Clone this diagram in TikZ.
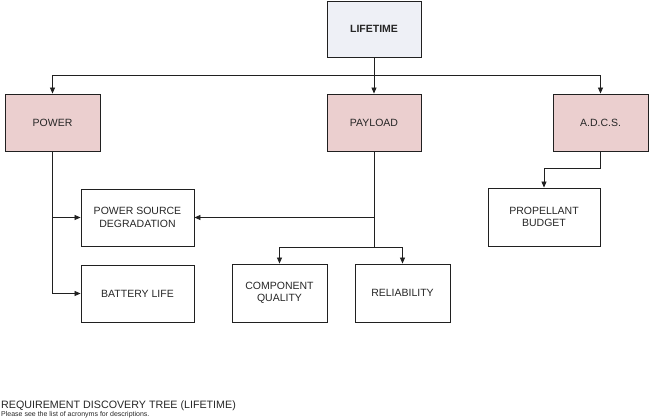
\documentclass[tikz,border=0pt]{standalone}
\usepackage{fontspec}
\setmainfont{Liberation Sans}
\usetikzlibrary{arrows.meta}
\definecolor{topfill}{HTML}{EEF0F6}
\definecolor{pinkfill}{HTML}{EBCFCF}
\definecolor{linec}{HTML}{202020}
\tikzset{
  box/.style={draw=linec, line width=0.9pt, inner sep=0pt, align=center,
    font=\fontsize{10.5}{12.5}\selectfont, text=black!85},
  topbox/.style={box, fill=topfill, font=\fontsize{10.5}{12.5}\selectfont\bfseries},
  pinkbox/.style={box, fill=pinkfill},
  conn/.style={draw=linec, line width=0.8pt},
  arr/.style={conn, -{Triangle[length=6pt,width=5pt]}}
}
\begin{document}
\begin{tikzpicture}[x=1pt,y=-1pt]
\useasboundingbox (0,0) rectangle (649,420);
% boxes: corners in px (y down)
\node[topbox, minimum width=94pt, minimum height=56pt] (life) at (374,29) {LIFETIME};
\node[pinkbox, minimum width=95pt, minimum height=57pt] (power) at (52.5,122.5) {POWER};
\node[pinkbox, minimum width=94pt, minimum height=57pt] (payload) at (374,122.5) {PAYLOAD};
\node[pinkbox, minimum width=95pt, minimum height=57pt] (adcs) at (600.5,122.5) {A.D.C.S.};
\node[box, minimum width=113pt, minimum height=57pt] (psd) at (137.5,217.5) {POWER SOURCE\\DEGRADATION};
\node[box, minimum width=113pt, minimum height=57pt] (bat) at (137.5,293.5) {BATTERY LIFE};
\node[box, minimum width=95pt, minimum height=58pt] (comp) at (279.5,293) {COMPONENT\\QUALITY};
\node[box, minimum width=95pt, minimum height=58pt] (rel) at (402.5,293) {RELIABILITY};
\node[box, minimum width=112pt, minimum height=58pt] (prop) at (544,217) {PROPELLANT\\BUDGET};
% connectors
\coordinate (bus) at (374,75);
\coordinate (pbus) at (374,247);
\coordinate (abus) at (600.5,168);
\draw[conn] (life.south) -- (bus);
\draw[arr] (bus) -- (payload.north);
\draw[arr] (bus) -| (power.north);
\draw[arr] (bus) -| (adcs.north);
\draw[arr] (power.south) |- (psd.west);
\draw[arr] (power.south) |- (bat.west);
\draw[arr] (payload.south) |- (psd.east);
\draw[conn] (payload.south) -- (pbus);
\draw[arr] (pbus) -| (comp.north);
\draw[arr] (pbus) -| (rel.north);
\draw[conn] (adcs.south) -- (abus);
\draw[arr] (abus) -| (prop.north);
% caption
\node[anchor=base west, inner sep=0pt, font=\fontsize{10.7}{12}\selectfont, text=black!85] (title) at (1,408) {REQUIREMENT DISCOVERY TREE (LIFETIME)};
\node[anchor=base west, inner sep=0pt, font=\fontsize{7}{8}\selectfont, text=black!85] (sub) at (1,416) {Please see the list of acronyms for descriptions.};
\end{tikzpicture}
\end{document}
